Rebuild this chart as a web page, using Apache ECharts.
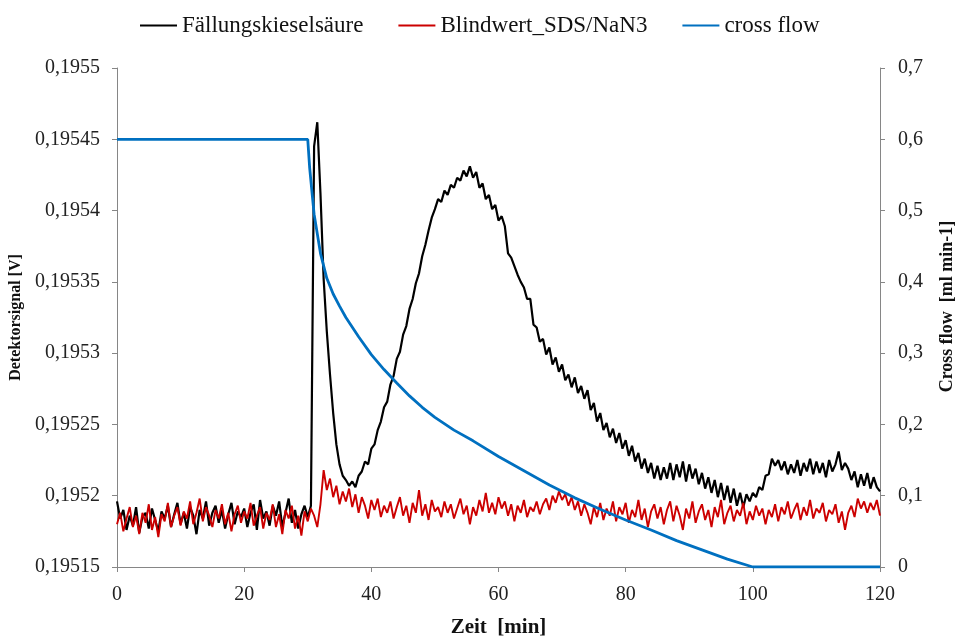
<!DOCTYPE html>
<html>
<head>
<meta charset="utf-8">
<script src="https://cdn.jsdelivr.net/npm/echarts@6/dist/echarts.min.js"></script>
<style>
  html, body {margin: 0; padding: 0; background: #fff;}
  #chart {width: 959px; height: 636px;}
</style>
</head>
<body>
<div id="chart"></div>
<script>
// sampling step of the detector traces [min]
const STEP = 0.5;

// Fällungskieselsäure, detector signal [V], t = 0 .. 120 min
const precipitated = [
  0.195196, 0.195184, 0.195190, 0.195176, 0.195186, 0.195179, 0.195192, 0.195174, 0.195185, 0.195188,
  0.195177, 0.195191, 0.195183, 0.195175, 0.195189, 0.195184, 0.195193, 0.195178, 0.195187, 0.195195,
  0.195180, 0.195188, 0.195177, 0.195192, 0.195186, 0.195173, 0.195190, 0.195184, 0.195196, 0.195179,
  0.195188, 0.195193, 0.195181, 0.195190, 0.195177, 0.195187, 0.195195, 0.195180, 0.195189, 0.195185,
  0.195191, 0.195178, 0.195188, 0.195194, 0.195176, 0.195197, 0.195184, 0.195189, 0.195179, 0.195193,
  0.195186, 0.195196, 0.195178, 0.195188, 0.195198, 0.195181, 0.195190, 0.195177, 0.195187, 0.195193,
  0.195185, 0.195193, 0.195445, 0.195462, 0.195412, 0.195352, 0.195315, 0.195285, 0.195258, 0.195236,
  0.195222, 0.195214, 0.195211, 0.195207, 0.195210, 0.195206, 0.195214, 0.195217, 0.195224, 0.195222,
  0.195233, 0.195236, 0.195246, 0.195252, 0.195262, 0.195266, 0.195278, 0.195284, 0.195296, 0.195301,
  0.195313, 0.195319, 0.195331, 0.195338, 0.195349, 0.195356, 0.195368, 0.195376, 0.195386, 0.195395,
  0.195401, 0.195408, 0.195406, 0.195414, 0.195411, 0.195418, 0.195416, 0.195423, 0.195421, 0.195428,
  0.195424, 0.195431, 0.195423, 0.195427, 0.195416, 0.195419, 0.195408, 0.195411, 0.195401, 0.195404,
  0.195393, 0.195396, 0.195389, 0.195370, 0.195367, 0.195361, 0.195355, 0.195350, 0.195346, 0.195338,
  0.195338, 0.195320, 0.195318, 0.195308, 0.195310, 0.195299, 0.195304, 0.195292, 0.195297, 0.195287,
  0.195292, 0.195281, 0.195285, 0.195276, 0.195283, 0.195272, 0.195277, 0.195268, 0.195274, 0.195260,
  0.195265, 0.195252, 0.195258, 0.195246, 0.195251, 0.195241, 0.195247, 0.195237, 0.195244, 0.195233,
  0.195239, 0.195228, 0.195235, 0.195224, 0.195230, 0.195219, 0.195226, 0.195216, 0.195223, 0.195212,
  0.195221, 0.195211, 0.195220, 0.195212, 0.195223, 0.195211, 0.195222, 0.195213, 0.195224, 0.195210,
  0.195222, 0.195212, 0.195219, 0.195208, 0.195216, 0.195205, 0.195213, 0.195202, 0.195211, 0.195199,
  0.195209, 0.195197, 0.195207, 0.195195, 0.195205, 0.195193, 0.195202, 0.195192, 0.195201, 0.195196,
  0.195202, 0.195199, 0.195206, 0.195204, 0.195214, 0.195215, 0.195226, 0.195221, 0.195225, 0.195218,
  0.195224, 0.195215, 0.195222, 0.195216, 0.195225, 0.195214, 0.195223, 0.195217, 0.195226, 0.195215,
  0.195224, 0.195216, 0.195223, 0.195213, 0.195225, 0.195217, 0.195222, 0.195231, 0.195218, 0.195223,
  0.195219, 0.195211, 0.195217, 0.195206, 0.195215, 0.195207, 0.195216, 0.195205, 0.195213, 0.195206,
  0.195203
];

// Blindwert_SDS/NaN3, detector signal [V], t = 0 .. 120 min
const blank = [
  0.195180, 0.195188, 0.195175, 0.195184, 0.195192, 0.195178, 0.195186, 0.195173, 0.195188, 0.195181,
  0.195194, 0.195176, 0.195185, 0.195171, 0.195187, 0.195182, 0.195195, 0.195178, 0.195186, 0.195192,
  0.195179, 0.195189, 0.195184, 0.195196, 0.195180, 0.195188, 0.195198, 0.195182, 0.195192, 0.195186,
  0.195178, 0.195190, 0.195184, 0.195194, 0.195180, 0.195188, 0.195175, 0.195187, 0.195193, 0.195181,
  0.195189, 0.195184, 0.195195, 0.195179, 0.195186, 0.195192, 0.195177, 0.195188, 0.195183, 0.195194,
  0.195178, 0.195187, 0.195173, 0.195190, 0.195184, 0.195193, 0.195177, 0.195186, 0.195172, 0.195189,
  0.195182, 0.195191, 0.195186, 0.195178, 0.195194, 0.195218, 0.195204, 0.195212, 0.195199, 0.195207,
  0.195194, 0.195203, 0.195196, 0.195205, 0.195192, 0.195201, 0.195188, 0.195199, 0.195193, 0.195184,
  0.195197, 0.195190, 0.195198, 0.195185, 0.195193, 0.195188, 0.195196, 0.195184, 0.195192, 0.195199,
  0.195186, 0.195193, 0.195181, 0.195195, 0.195188, 0.195204, 0.195186, 0.195194, 0.195183, 0.195197,
  0.195189, 0.195192, 0.195185, 0.195196, 0.195188, 0.195194, 0.195184, 0.195191, 0.195198, 0.195187,
  0.195193, 0.195180, 0.195192, 0.195186, 0.195197, 0.195189, 0.195202, 0.195188, 0.195195, 0.195187,
  0.195199, 0.195191, 0.195196, 0.195186, 0.195194, 0.195182, 0.195193, 0.195188, 0.195197, 0.195185,
  0.195192, 0.195189, 0.195196, 0.195187, 0.195194, 0.195198, 0.195190, 0.195200, 0.195195, 0.195203,
  0.195197, 0.195201, 0.195193, 0.195199, 0.195190, 0.195196, 0.195186, 0.195194, 0.195188, 0.195180,
  0.195192, 0.195185, 0.195195, 0.195183, 0.195191, 0.195186, 0.195196, 0.195182, 0.195192, 0.195187,
  0.195195, 0.195181, 0.195190, 0.195185, 0.195197, 0.195183, 0.195191, 0.195178, 0.195189, 0.195194,
  0.195184, 0.195192, 0.195180, 0.195190, 0.195196, 0.195182, 0.195193, 0.195186, 0.195176, 0.195191,
  0.195184, 0.195196, 0.195181, 0.195189, 0.195194, 0.195183, 0.195190, 0.195178, 0.195192, 0.195185,
  0.195197, 0.195180, 0.195188, 0.195193, 0.195182, 0.195190, 0.195186, 0.195195, 0.195180, 0.195189,
  0.195183, 0.195193, 0.195186, 0.195191, 0.195180, 0.195190, 0.195185, 0.195194, 0.195182, 0.195192,
  0.195187, 0.195196, 0.195184, 0.195190, 0.195195, 0.195183, 0.195192, 0.195186, 0.195197, 0.195184,
  0.195191, 0.195188, 0.195195, 0.195182, 0.195190, 0.195187, 0.195194, 0.195181, 0.195189, 0.195176,
  0.195188, 0.195193, 0.195185, 0.195198, 0.195191, 0.195196, 0.195188, 0.195195, 0.195190, 0.195197,
  0.195186
];

// cross flow [ml min-1]
const flowTime = [0, 30, 30.3, 31, 32, 33, 34, 35, 36, 38, 40, 42, 44, 46, 48, 50, 53, 56, 60, 64, 68, 72, 76, 80, 84, 88, 92, 96, 100, 120];
const flowValue = [0.6, 0.6, 0.56, 0.495, 0.44, 0.405, 0.383, 0.366, 0.35, 0.323, 0.298, 0.277, 0.258, 0.24, 0.224, 0.21, 0.192, 0.177, 0.155, 0.135, 0.115, 0.097, 0.081, 0.066, 0.052, 0.037, 0.024, 0.011, 0, 0];

const seriesNames = ['Fällungskieselsäure', 'Blindwert_SDS/NaN3', 'cross flow'];
const seriesColors = ['#000000', '#cc0000', '#0070c0'];

const serif = 'Liberation Serif';
const trace = (arr) => arr.map((v, i) => [i * STEP, v]);
const comma = (v, d) => {
  let s = v.toFixed(d);
  if (s.indexOf('.') >= 0) s = s.replace(/0+$/, '').replace(/\.$/, '');
  return s.replace('.', ',');
};

const chart = echarts.init(document.getElementById('chart'));

const axisCommon = {
  axisLine: {show: true, lineStyle: {color: '#868686', width: 1}},
  axisTick: {show: true, length: 5, lineStyle: {color: '#868686'}},
  splitLine: {show: false},
};
const tickFont = {fontFamily: serif, fontSize: 20, color: '#222'};

const option = {
  animation: false,
  backgroundColor: '#ffffff',
  color: seriesColors,
  textStyle: {fontFamily: serif},
  legend: {
    top: 9,
    left: 135,
    itemWidth: 37,
    itemHeight: 2,
    itemGap: 35,
    icon: 'rect',
    textStyle: {fontFamily: serif, fontSize: 23, color: '#111'},
    data: seriesNames,
  },
  grid: {left: 117, right: 79, top: 68, bottom: 69, outerBoundsMode: 'none', containLabel: false},
  xAxis: {
    type: 'value',
    min: 0,
    max: 120,
    interval: 20,
    name: 'Zeit  [min]',
    nameLocation: 'middle',
    nameGap: 50,
    nameTextStyle: {fontFamily: serif, fontWeight: 'bold', fontSize: 21, color: '#111'},
    ...axisCommon,
    axisLabel: {...tickFont, margin: 18},
  },
  yAxis: [
    {
      type: 'value',
      position: 'left',
      min: 0.19515,
      max: 0.1955,
      interval: 0.00005,
      name: 'Detektorsignal [V]',
      nameLocation: 'middle',
      nameGap: 88,
      nameTextStyle: {fontFamily: serif, fontWeight: 'bold', fontSize: 16, color: '#111'},
      ...axisCommon,
      axisLabel: {...tickFont, margin: 17, formatter: (v) => comma(v, 5)},
    },
    {
      type: 'value',
      position: 'right',
      min: 0,
      max: 0.7,
      interval: 0.1,
      name: 'Cross flow  [ml min-1]',
      nameLocation: 'middle',
      nameGap: 58,
      nameTextStyle: {fontFamily: serif, fontWeight: 'bold', fontSize: 18, color: '#111', padding: [0, 0, 0, 22]},
      ...axisCommon,
      axisLabel: {...tickFont, margin: 18, formatter: (v) => comma(v, 1)},
    },
  ],
  series: [
    {
      name: seriesNames[0],
      type: 'line',
      yAxisIndex: 0,
      showSymbol: false,
      lineStyle: {width: 2.2, color: seriesColors[0]},
      data: trace(precipitated),
    },
    {
      name: seriesNames[1],
      type: 'line',
      yAxisIndex: 0,
      showSymbol: false,
      lineStyle: {width: 1.9, color: seriesColors[1]},
      data: trace(blank),
    },
    {
      name: seriesNames[2],
      type: 'line',
      yAxisIndex: 1,
      showSymbol: false,
      lineStyle: {width: 2.8, color: seriesColors[2]},
      data: flowTime.map((t, i) => [t, flowValue[i]]),
    },
  ],
};

chart.setOption(option);
</script>
</body>
</html>
